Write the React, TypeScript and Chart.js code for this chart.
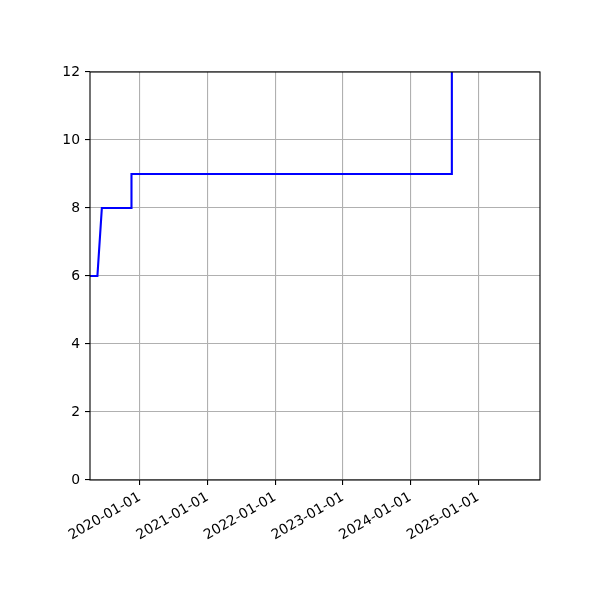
import React, { useEffect, useRef } from 'react'
import { Chart, registerables, Plugin } from 'chart.js'

Chart.register(...registerables)

// step points
const dates = ['2019-04-07', '2019-05-17', '2019-06-10', '2019-11-17', '2019-11-17', '2024-08-12', '2024-08-12']
const values = [6, 6, 8, 8, 9, 9, 12]
const tickYears = [2020, 2021, 2022, 2023, 2024, 2025]
const xMin = '2019-04-07'
const xMax = '2025-12-01'

const toMs = (d: string) => new Date(d + 'T00:00:00Z').getTime()

const fmt = (v: number) => {
  const d = new Date(v)
  const m = String(d.getUTCMonth() + 1).padStart(2, '0')
  const day = String(d.getUTCDate()).padStart(2, '0')
  return `${d.getUTCFullYear()}-${m}-${day}`
}

const frame: Plugin<'line'> = {
  id: 'frame',
  afterDraw(chart) {
    const { ctx, chartArea: a } = chart
    ctx.save()
    ctx.strokeStyle = '#000'
    ctx.lineWidth = 1.1
    ctx.strokeRect(a.left, a.top, a.right - a.left, a.bottom - a.top)
    ctx.restore()
  }
}

const App: React.FC = () => {
  const ref = useRef<HTMLCanvasElement | null>(null)

  useEffect(() => {
    document.body.style.margin = '0'
    if (!ref.current) return
    const font = { family: 'DejaVu Sans', size: 13.9 }
    const chart = new Chart(ref.current, {
      type: 'line',
      data: {
        datasets: [
          {
            data: dates.map((d, i) => ({ x: toMs(d), y: values[i] })),
            borderColor: '#0000ff',
            borderWidth: 2.1,
            pointRadius: 0,
            tension: 0,
            fill: false
          }
        ]
      },
      options: {
        animation: false,
        responsive: false,
        devicePixelRatio: 1,
        layout: { padding: { top: 72, right: 60, left: 0, bottom: 0 } },
        plugins: { legend: { display: false }, tooltip: { enabled: false } },
        scales: {
          x: {
            type: 'linear',
            min: toMs(xMin),
            max: toMs(xMax),
            afterBuildTicks: (s) => {
              s.ticks = tickYears.map((y) => ({ value: Date.UTC(y, 0, 1) }))
            },
            afterFit: (s) => {
              s.height = 120
            },
            border: { display: false },
            grid: { color: '#b0b0b0', lineWidth: 1.1, tickColor: '#000', tickLength: 5 },
            ticks: {
              color: '#000',
              font,
              minRotation: 30,
              maxRotation: 30,
              padding: 4,
              callback: (v) => fmt(Number(v))
            }
          },
          y: {
            min: 0,
            max: 12,
            afterFit: (s) => {
              s.width = 90
            },
            border: { display: false },
            grid: { color: '#b0b0b0', lineWidth: 1.1, tickColor: '#000', tickLength: 5 },
            ticks: { color: '#000', font, stepSize: 2, padding: 5 }
          }
        }
      },
      plugins: [frame]
    })
    return () => chart.destroy()
  }, [])

  return (
    <div style={{ width: 600, height: 600, background: '#fff' }}>
      <canvas ref={ref} width={600} height={600} />
    </div>
  )
}

export default App
